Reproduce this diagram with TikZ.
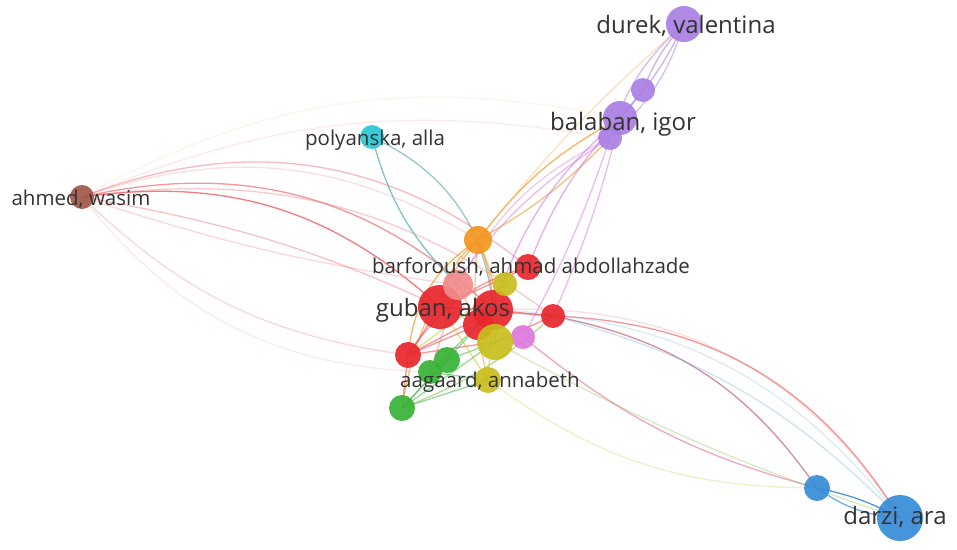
\documentclass[tikz,border=0pt]{standalone}
\usepackage{fontspec}
\setmainfont{Open Sans}
\begin{document}
\begin{tikzpicture}[x=1pt,y=-1pt,
  vn/.style={circle,inner sep=0pt,draw=none,fill opacity=0.92},
  edge/.style={line width=1.3pt,opacity=#1},
  edge/.default=0.5,
  lbl/.style={text=black!80,inner sep=0pt,anchor=center},
  bigl/.style={lbl,font=\fontsize{24}{28}\selectfont},
  smalll/.style={lbl,font=\fontsize{20.5}{24}\selectfont}]
\definecolor{cpurple}{RGB}{170,128,228}
\definecolor{ccyan}{RGB}{40,200,214}
\definecolor{cbrown}{RGB}{160,88,74}
\definecolor{corange}{RGB}{243,150,30}
\definecolor{cred}{RGB}{232,38,45}
\definecolor{cpink}{RGB}{240,140,140}
\definecolor{colive}{RGB}{200,190,30}
\definecolor{cviolet}{RGB}{222,120,222}
\definecolor{cgreen}{RGB}{55,178,55}
\definecolor{cblue}{RGB}{55,140,215}
\useasboundingbox (0,0) rectangle (957,549);
\fill[white] (0,0) rectangle (957,549);
% node coordinates
\coordinate (durekc) at (684,24);
\coordinate (pv2c) at (643,90);
\coordinate (balabanc) at (620,118);
\coordinate (pv3c) at (610,138);
\coordinate (polyc) at (372,137);
\coordinate (ahmedc) at (82,197);
\coordinate (orangec) at (478,240);
\coordinate (rbarc) at (528,267);
\coordinate (pinknc) at (458,285);
\coordinate (yg1c) at (505,284);
\coordinate (gubanc) at (440,307);
\coordinate (r2c) at (493,310);
\coordinate (r3c) at (478,325);
\coordinate (olivec) at (495,342);
\coordinate (vioc) at (523,337);
\coordinate (rrightc) at (553,316);
\coordinate (rleftc) at (408,355);
\coordinate (g1c) at (447,360);
\coordinate (g2c) at (430,372);
\coordinate (aagc) at (488,380);
\coordinate (g3c) at (402,408);
\coordinate (b1c) at (817,488);
\coordinate (darzic) at (900,518);
% ---------- edges ----------
% ahmed
\draw[edge=0.75,cred!80] (ahmedc) to[bend left=25] (gubanc);
\draw[edge=0.6,cred!80] (ahmedc) to[bend left=28] (r2c);
\draw[edge=0.45,cred!70] (ahmedc) to[bend left=30] (rbarc);
\draw[edge=0.35,cred!70] (ahmedc) to[bend left=22] (rrightc);
\draw[edge=0.25,cred!60] (ahmedc) to[bend left=25] (orangec);
\draw[edge=0.2,cred!50] (ahmedc) to[bend left=16] (pv3c);
\draw[edge=0.15,corange!60] (ahmedc) to[bend left=20] (balabanc);
\draw[edge=0.3,cred!60] (ahmedc) to[bend right=18] (rleftc);
\draw[edge=0.2,cred!50] (ahmedc) to[bend right=25] (g2c);
\draw[edge=0.4,cred!70] (ahmedc) to[bend left=8] (r3c);
\draw[edge=0.3,cred!60] (ahmedc) to[bend right=5] (pinknc);
% polyanska
\draw[edge=0.7,ccyan!60!gray] (polyc) to[bend right=15] (pinknc);
\draw[edge=0.6,ccyan!50!gray] (polyc) to[bend left=30] (r2c);
% orange
\draw[edge=0.7,corange] (orangec) to[bend left=12] (balabanc);
\draw[edge=0.6,corange] (orangec) to[bend right=8] (pv3c);
\draw[edge=0.4,corange!70] (orangec) to[bend left=5] (durekc);
\draw[edge=0.7,corange] (orangec) to[bend right=25] (rleftc);
\draw[edge=0.6,corange] (orangec) to[bend right=20] (gubanc);
\draw[edge=0.6,corange] (orangec) to[bend right=15] (g3c);
\draw[edge=0.6,corange] (orangec) to[bend left=10] (r2c);
\draw[edge=0.6,corange] (orangec) to[bend left=15] (olivec);
\draw[edge=0.5,corange] (orangec) to[bend right=10] (aagc);
% purple
\draw[edge=0.6,cpurple] (durekc) to[bend right=10] (pv2c);
\draw[edge=0.6,cpurple] (durekc) to[bend left=8] (balabanc);
\draw[edge=0.5,cpurple] (durekc) to[bend right=15] (pv3c);
\draw[edge=0.5,cpurple] (durekc) to[bend left=15] (pv3c);
\draw[edge=0.6,cpurple] (pv2c) to (balabanc);
\draw[edge=0.6,cviolet!80!cpurple] (balabanc) to[bend right=10] (rbarc);
\draw[edge=0.6,cviolet!80!cpurple] (balabanc) to[bend right=15] (r2c);
\draw[edge=0.5,cviolet!80!cpurple] (pv3c) to[bend right=12] (gubanc);
\draw[edge=0.5,cviolet!80!cpurple] (pv3c) to[bend left=5] (vioc);
\draw[edge=0.5,cviolet!80!cpurple] (balabanc) to[bend left=5] (rrightc);
\draw[edge=0.4,cviolet!80!cpurple] (pv3c) to[bend right=18] (pinknc);
% to darzi / blue
\draw[edge=0.6,cred!80] (rrightc) to[bend left=28] (darzic);
\draw[edge=0.6,cred!70!cblue] (rrightc) to[bend left=22] (b1c);
\draw[edge=0.25,cred!60] (r2c) to[bend left=30] (darzic);
\draw[edge=0.5,cviolet!50!cred] (vioc) to[bend right=12] (b1c);
\draw[edge=0.35,colive!70] (aagc) to[bend right=18] (b1c);
\draw[edge=0.3,cgreen!50!colive] (olivec) to[bend right=5] (darzic);
\draw[edge=0.35,cblue!70] (darzic) to[bend right=15] (rrightc);
\draw[edge=0.3,cblue!60] (darzic) to[bend right=25] (r2c);
\draw[edge=0.9,cblue] (b1c) to[bend left=8] (darzic);
\draw[edge=0.7,cblue] (b1c) to[bend right=15] (darzic);
% center cluster
\draw[edge=0.6,cred!80] (gubanc) -- (r2c);
\draw[edge=0.6,cred!80] (gubanc) -- (rleftc);
\draw[edge=0.6,cred!80] (gubanc) -- (rbarc);
\draw[edge=0.6,cred!80] (gubanc) -- (rrightc);
\draw[edge=0.6,cred!80] (r2c) -- (rleftc);
\draw[edge=0.6,cred!80] (r3c) -- (rleftc);
\draw[edge=0.6,cred!80] (rleftc) to[bend left=20] (rbarc);
\draw[edge=0.6,cred!80] (rleftc) -- (olivec);
\draw[edge=0.6,cred!80] (rleftc) -- (g3c);
\draw[edge=0.6,cred!80] (rrightc) -- (r2c);
\draw[edge=0.6,cred!80] (rrightc) -- (olivec);
\draw[edge=0.5,cgreen] (g1c) -- (olivec);
\draw[edge=0.5,cgreen] (g2c) -- (r2c);
\draw[edge=0.5,cgreen] (g3c) -- (olivec);
\draw[edge=0.5,cgreen] (g3c) -- (r2c);
\draw[edge=0.5,cgreen] (g3c) -- (g1c);
\draw[edge=0.5,cgreen] (g3c) -- (aagc);
\draw[edge=0.5,cgreen] (g2c) -- (aagc);
\draw[edge=0.5,cgreen!60!colive] (g3c) to[bend right=10] (rrightc);
\draw[edge=0.5,colive] (aagc) -- (r2c);
\draw[edge=0.5,colive] (aagc) -- (gubanc);
\draw[edge=0.5,colive] (yg1c) -- (olivec);
\draw[edge=0.5,colive] (yg1c) -- (rleftc);
\draw[edge=0.5,cred!60] (pinknc) -- (r3c);
\draw[edge=0.5,cred!60] (pinknc) -- (g2c);
% ---------- nodes ----------
\node[vn,fill=cpurple,minimum size=36pt] (durek) at (durekc) {};
\node[vn,fill=cpurple,minimum size=24pt] (pv2) at (pv2c) {};
\node[vn,fill=cpurple,minimum size=24pt] (pv3) at (pv3c) {};
\node[vn,fill=cpurple,minimum size=34pt] (balaban) at (balabanc) {};
\node[vn,fill=ccyan,minimum size=24pt] (poly) at (polyc) {};
\node[vn,fill=cbrown,minimum size=24pt] (ahmed) at (ahmedc) {};
\node[vn,fill=corange,minimum size=28pt] (orange) at (orangec) {};
\node[vn,fill=cred,minimum size=26pt] (rbar) at (rbarc) {};
\node[vn,fill=cred,minimum size=40pt] (r2) at (r2c) {};
\node[vn,fill=cred,minimum size=44pt] (guban) at (gubanc) {};
\node[vn,fill=cpink,minimum size=30pt] (pinkn) at (pinknc) {};
\node[vn,fill=colive,minimum size=24pt] (yg1) at (yg1c) {};
\node[vn,fill=cred,minimum size=30pt] (r3) at (r3c) {};
\node[vn,fill=cviolet,minimum size=24pt] (vio) at (vioc) {};
\node[vn,fill=colive,minimum size=36pt] (olive) at (olivec) {};
\node[vn,fill=cred,minimum size=24pt] (rright) at (rrightc) {};
\node[vn,fill=cred,minimum size=26pt] (rleft) at (rleftc) {};
\node[vn,fill=cgreen,minimum size=26pt] (g1) at (g1c) {};
\node[vn,fill=cgreen,minimum size=24pt] (g2) at (g2c) {};
\node[vn,fill=colive,minimum size=26pt] (aag) at (aagc) {};
\node[vn,fill=cgreen,minimum size=26pt] (g3) at (g3c) {};
\node[vn,fill=cblue,minimum size=26pt] (b1) at (b1c) {};
\node[vn,fill=cblue,minimum size=46pt] (darzi) at (darzic) {};
% ---------- labels ----------
\node[bigl] (ldurek) at (686,26) {durek, valentina};
\node[bigl] (lbalaban) at (623,124) {balaban, igor};
\node[smalll] (lpoly) at (375,140) {polyanska, alla};
\node[smalll] (lahmed) at (81,199) {ahmed, wasim};
\node[smalll] (lbar) at (531,267) {barforoush, ahmad abdollahzade};
\node[bigl] (lguban) at (443,310) {guban, akos};
\node[smalll] (laag) at (490,382) {aagaard, annabeth};
\node[bigl] (ldarzi) at (895,517) {darzi, ara};
\end{tikzpicture}
\end{document}
